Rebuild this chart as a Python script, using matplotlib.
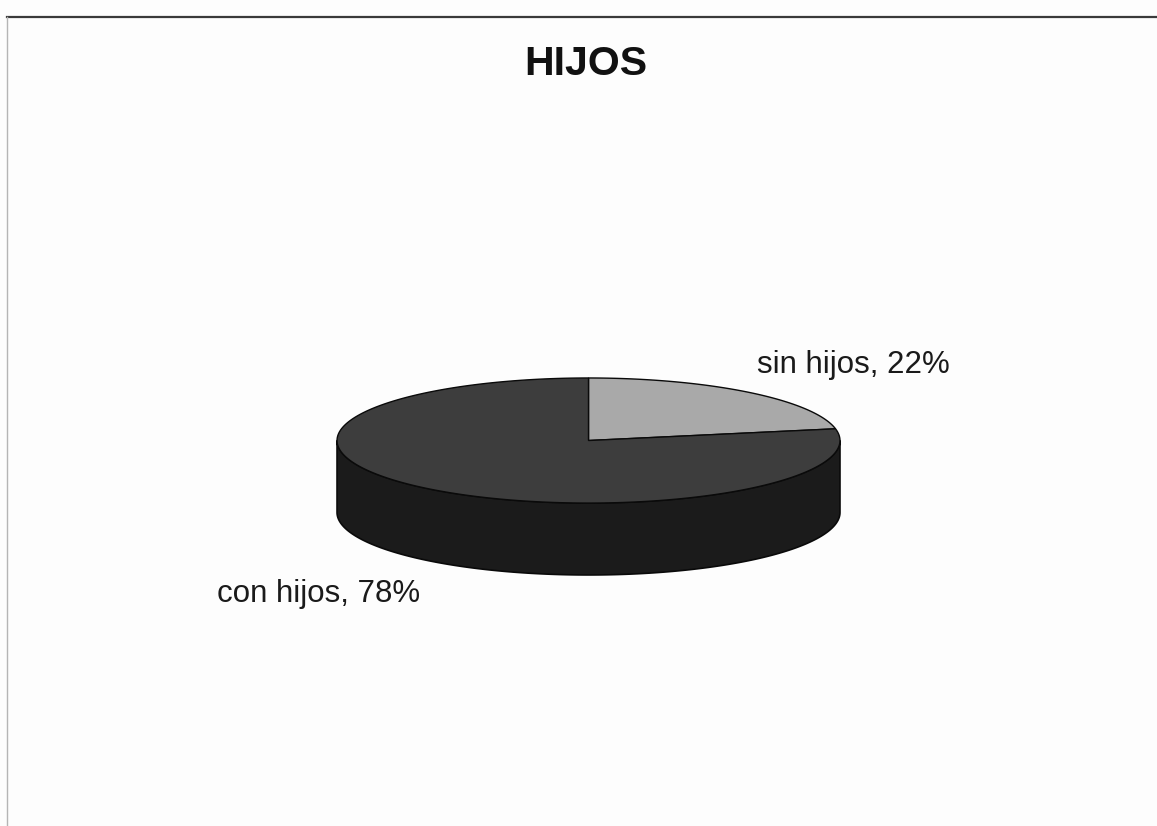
#!/usr/bin/env python3
import numpy as np
import matplotlib.pyplot as plt
from matplotlib.patches import Polygon

# Share of respondents with / without children
labels = ['sin hijos', 'con hijos']
values = [22, 78]
face_colors = ['#a9a9a9', '#3d3d3d']
side_color = '#1b1b1b'

fig = plt.figure(figsize=(11.57, 8.26), dpi=100)
fig.patch.set_facecolor('#fdfdfd')
plt.rcParams['font.family'] = ['Liberation Sans', 'DejaVu Sans']

# Frame lines of the chart area
fig.add_artist(plt.Line2D([0.006, 1.0], [0.979, 0.979], color='#3a3a3a', lw=1.6))
fig.add_artist(plt.Line2D([0.006, 0.006], [0.0, 0.979], color='#b5b5b5', lw=1.0))

fig.text(0.506, 0.923, 'HIJOS', ha='center', va='center',
         fontsize=29.5, fontweight='bold', color='#111111')

# Pie axes: top face is the unit circle, squashed by the axes aspect
depth = 1.15
ax = fig.add_axes([0.2913, 0.3039, 0.4347, 0.2385])
ax.set_xlim(-1.0, 1.0)
ax.set_ylim(-1.0 - depth, 1.0)
ax.axis('off')

# Side wall (front half only is visible)
t = np.linspace(np.pi, 2 * np.pi, 200)
top = np.column_stack([np.cos(t), np.sin(t)])
bottom = np.column_stack([np.cos(t[::-1]), np.sin(t[::-1]) - depth])
ax.add_patch(Polygon(np.vstack([top, bottom]), closed=True, clip_on=False,
                     facecolor=side_color, edgecolor='#0a0a0a', lw=1.2))

# Top face wedges, clockwise from 12 o'clock
fracs = np.array(values) / np.sum(values)
start = 90.0
for frac, col in zip(fracs, face_colors):
    end = start - frac * 360.0
    a = np.radians(np.linspace(start, end, 200))
    pts = np.vstack([[0, 0], np.column_stack([np.cos(a), np.sin(a)])])
    ax.add_patch(Polygon(pts, closed=True, clip_on=False, facecolor=col,
                         edgecolor='#0a0a0a', lw=1.0))
    start = end

label_pos = [(0.738, 0.558), (0.275, 0.281)]
for lab, v, (x, y) in zip(labels, values, label_pos):
    fig.text(x, y, f'{lab}, {v}%', ha='center', va='center',
             fontsize=22.5, color='#1a1a1a')

fig.savefig('out.png', dpi=100, facecolor=fig.get_facecolor())
